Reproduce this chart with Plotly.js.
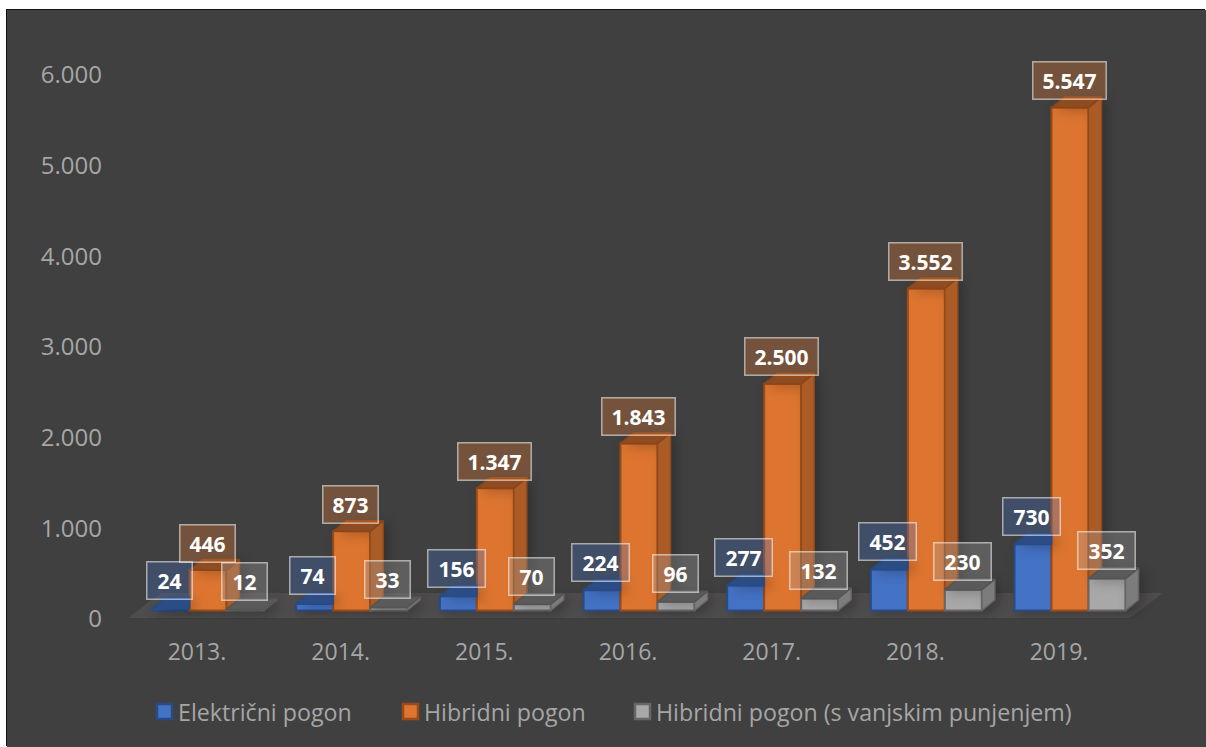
<!DOCTYPE html>
<html>
<head>
<meta charset="utf-8">
<script src="https://cdn.plot.ly/plotly-3.0.1.min.js"></script>
<style>
html,body{margin:0;padding:0;background:#fff;width:1206px;height:747px;overflow:hidden}
#frame{position:absolute;left:7px;top:10px;width:1199px;height:737px;background:#404040;box-shadow:-1px -1px 0 #111}
#frame .barlayer,#frame .scatterlayer{filter:drop-shadow(5px 3px 6px rgba(0,0,0,0.22))}
</style>
</head>
<body>
<div id="frame"></div>
<script>
const years = ["2013.","2014.","2015.","2016.","2017.","2018.","2019."];
const elektricni = [24,74,156,224,277,452,730];
const hibridni = [446,873,1347,1843,2500,3552,5547];
const vanjski = [12,33,70,96,132,230,352];
const seriesNames = ["Električni pogon","Hibridni pogon","Hibridni pogon (s vanjskim punjenjem)"];

const W=1199,H=737, L=121,R=41,T=30,B=128;
const xRange=[-0.4803,6.7377], yRange=[0,6386];
const pxX=(W-L-R)/(xRange[1]-xRange[0]);
const pxY=(H-T-B)/(yRange[1]-yRange[0]);
const ux=p=>p/pxX, uy=p=>p/pxY;
const barW=ux(37), dx=ux(13), dy=uy(10.5), baseY=uy(8.5);
const off=[ux(-26),ux(11),ux(48)];
const idx=years.map((_,i)=>i);

function bar(vals,k,fill,line,legend){
  return {type:'bar',name:seriesNames[k],x:idx.map(i=>i+off[k]),y:vals,base:idx.map(()=>baseY),
    width:barW,marker:{color:fill,line:{color:line,width:2}},legend:legend,hoverinfo:'skip',showlegend:true};
}
function face(polys,fill,line){
  const x=[],y=[];
  polys.forEach(p=>{p.forEach(q=>{x.push(q[0]);y.push(q[1]);});x.push(null);y.push(null);});
  return {type:'scatter',mode:'lines',x:x,y:y,fill:'toself',fillcolor:fill,line:{color:line,width:1.5},showlegend:false,hoverinfo:'skip'};
}
const leftX=(i,k)=>i+off[k]-barW/2, rightX=(i,k)=>i+off[k]+barW/2, topY=v=>baseY+v;

const orangeSide=idx.map(i=>{const r=rightX(i,1),t=topY(hibridni[i]),g=topY(vanjski[i]);
  return [[r,t],[r+dx,t+dy],[r+dx,g+dy],[r,g],[r,t]];});
const orangeTop=idx.map(i=>{const l=leftX(i,1),r=rightX(i,1),t=topY(hibridni[i]);
  return [[l,t],[l+dx,t+dy],[r+dx,t+dy],[r,t],[l,t]];});
const graySide=idx.map(i=>{const r=rightX(i,2),t=topY(vanjski[i]);
  return [[r,t],[r+dx,t+dy],[r+dx,baseY+dy],[r,baseY],[r,t]];});
const grayTop=idx.map(i=>{const l=leftX(i,2),r=rightX(i,2),t=topY(vanjski[i]);
  return [[l,t],[l+dx,t+dy],[r+dx,t+dy],[r,t],[l,t]];});
const blueTop=idx.map(i=>{const l=leftX(i,0),r=rightX(i,0),t=topY(elektricni[i]);
  return [[l,t],[l+dx,t+dy],[r,t+dy],[r,t],[l,t]];});

const traces=[
  bar(elektricni,0,'#4472c4','#264b86','legend'),
  bar(hibridni,1,'#dd7530','#9a4c18','legend2'),
  bar(vanjski,2,'#a8a8a8','#666666','legend3'),
  face(orangeSide,'#ab5c26','#8f4a1c'),
  face(orangeTop,'#8f4c20','#8a4518'),
  face(graySide,'#7c7c7c','#666666'),
  face(grayTop,'#5a5a5a','#555555'),
  face(blueTop,'#2c4c86','#264b86')
];

const fmt=v=>String(v).replace(/\B(?=(\d{3})+$)/g,'.');
function labels(vals,k,fill,xs,ys){
  return vals.map((v,i)=>{const t=fmt(v);
    return {text:'<b>'+t+'</b>',xref:'x',yref:'y',x:i+off[k],y:topY(v),xshift:xs,yshift:ys,showarrow:false,
      font:{family:'Open Sans',size:21,color:'#ffffff'},bgcolor:fill,bordercolor:'rgba(255,255,255,0.55)',borderwidth:1.5,
      width:t.replace('.','').length*12+(t.includes('.')?6:0)+(k===1?18:20),height:36,align:'center',valign:'middle',borderpad:0};});
}
const annotations=[].concat(
  labels(elektricni,0,'rgba(68,114,196,0.3)',-2,28),
  labels(hibridni,1,'rgba(237,125,49,0.3)',-1,27),
  labels(vanjski,2,'rgba(165,165,165,0.3)',-1,28)
);

const fl=(a,b)=>[ux(a-197),uy(619-b)];
const floorPts=[fl(128,618),fl(1130,618),fl(1163,593),fl(161,593)];
const floorPath='M'+floorPts.map(p=>p[0]+','+p[1]).join(' L')+' Z';

function leg(textPx){
  return {xref:'paper',yref:'paper',x:(textPx-7-40-L)/(W-L-R),y:(H-B-(712-10))/(H-T-B),yanchor:'middle',xanchor:'left',
    orientation:'v',bgcolor:'rgba(0,0,0,0)',borderwidth:0,font:{family:'Open Sans',size:23.2,color:'#a6a6a6'}};
}
const layout={
  width:W,height:H,margin:{l:L,r:R,t:T,b:B,pad:0},
  paper_bgcolor:'#404040',plot_bgcolor:'rgba(0,0,0,0)',
  barmode:'overlay',separators:',.',
  font:{family:'Open Sans',color:'#a6a6a6'},
  xaxis:{range:xRange,tickmode:'array',tickvals:idx,ticktext:years,showgrid:false,zeroline:false,showline:false,ticks:'',
    ticklabelstandoff:17,tickfont:{family:'Open Sans',size:23,color:'#a6a6a6'}},
  yaxis:{range:yRange,tickmode:'array',tickvals:[0,1000,2000,3000,4000,5000,6000],tickformat:',d',showgrid:false,zeroline:false,showline:false,ticks:'',
    ticklabelstandoff:25,tickfont:{family:'Open Sans',size:24,color:'#a6a6a6'}},
  shapes:[{type:'path',xref:'x',yref:'y',layer:'below',path:floorPath,fillcolor:'#4e4c4c',line:{width:0}}],
  annotations:annotations,
  legend:leg(178),legend2:leg(424),legend3:leg(656)
};
const TWEAK=' translate(6.5,0) scale(1.25)';
function tweakSwatches(){
  document.querySelectorAll('#frame .legendpoints path').forEach(p=>{
    const t=(p.getAttribute('transform')||'').replace(TWEAK,'');
    p.setAttribute('transform',t+TWEAK);
  });
}
Plotly.newPlot('frame',traces,layout,{displayModeBar:false,staticPlot:true}).then(gd=>{
  gd.on('plotly_afterplot',tweakSwatches);
  tweakSwatches();
  setTimeout(tweakSwatches,50);
  setTimeout(tweakSwatches,300);
});
</script>
</body>
</html>
